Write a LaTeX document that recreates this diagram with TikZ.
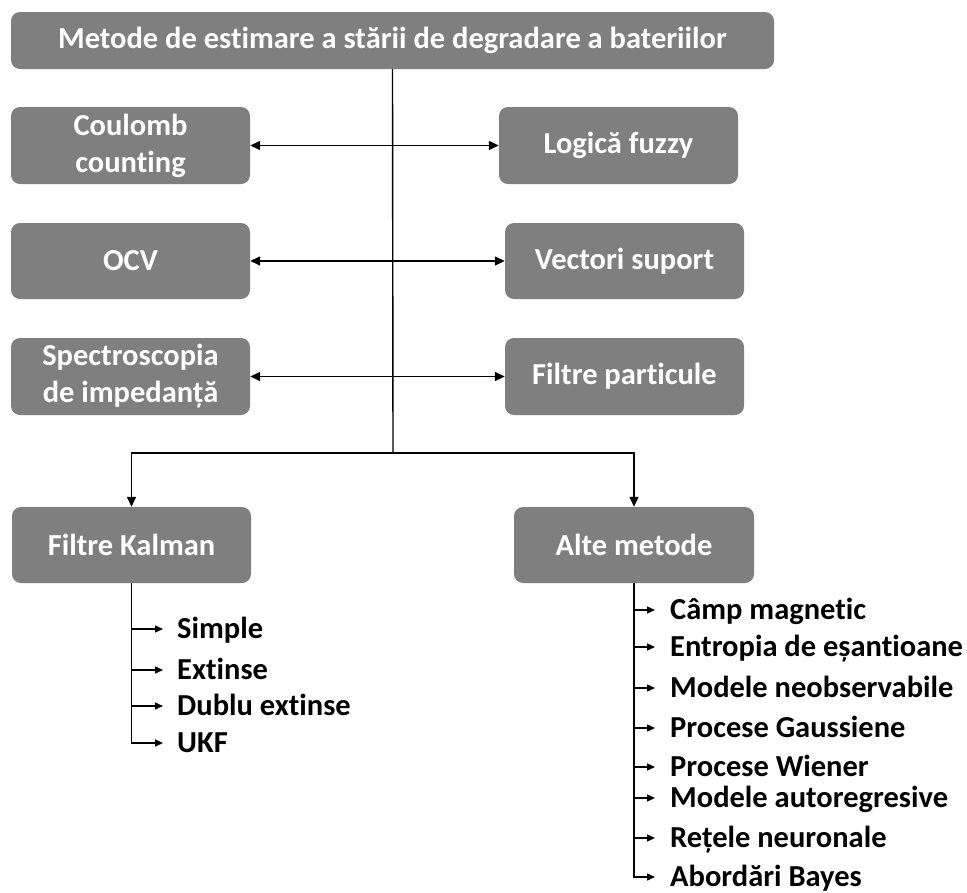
\documentclass[tikz,border=0pt]{standalone}
\usepackage{fontspec}
\setmainfont{Carlito}[Ligatures=NoCommon]
\usetikzlibrary{arrows.meta}
\definecolor{boxgrey}{HTML}{7F7F7F}
\begin{document}
\begin{tikzpicture}[x=1pt,y=-1pt,
  box/.style={fill=boxgrey, rounded corners=9pt, text=white, align=center,
    font=\bfseries\fontsize{30.5}{37}\selectfont, inner sep=0pt},
  item/.style={anchor=west, inner xsep=15pt, inner ysep=0pt, text height=19.5pt, text depth=0pt,
    font=\bfseries\fontsize{30.5}{37}\selectfont},
  link/.style={line width=1.4pt, draw=black},
  bigtip/.style={-{Triangle[length=10pt,width=9pt]}},
  duo/.style={{Triangle[length=10pt,width=9pt]}-{Triangle[length=10pt,width=9pt]}},
  smalltip/.style={-{Triangle[length=8pt,width=7pt]}}
]
\useasboundingbox (0,0) rectangle (967,892);

% main heading
\node[box, minimum width=763pt, minimum height=57pt] (top) at (392.5,40.5)
  {Metode de estimare a stării de degradare a bateriilor};

% paired methods
\node[box, minimum width=239pt, minimum height=77pt] (coul) at (130.5,145.5) {Coulomb\\counting};
\node[box, minimum width=239pt, minimum height=77pt] (fuzzy) at (618.5,145.5) {Logică fuzzy};
\node[box, minimum width=239pt, minimum height=76pt] (ocv) at (130.5,261) {OCV};
\node[box, minimum width=239pt, minimum height=76pt] (svm) at (624.5,261) {Vectori suport};
\node[box, minimum width=239pt, minimum height=77pt] (eis) at (130.5,376.5) {Spectroscopia\\de impedanță};
\node[box, minimum width=239pt, minimum height=77pt] (pf) at (624.5,376.5) {Filtre particule};

% lower branches
\node[box, minimum width=239pt, minimum height=76pt] (kal) at (131.5,545) {Filtre Kalman};
\node[box, minimum width=240pt, minimum height=76pt] (alte) at (634,545) {Alte metode};

% trunk and split
\coordinate (split) at (393,453);
\draw[link] (top.south) -- (split);
\draw[link, bigtip] (split) -| (kal.north);
\draw[link, bigtip] (split) -| (alte.north);

% horizontal double arrows
\draw[link, duo] (coul.east) -- (fuzzy.west);
\draw[link, duo] (ocv.east) -- (svm.west);
\draw[link, duo] (eis.east) -- (pf.west);

% Kalman filter variants
\node[item, inner xsep=14pt] (k1) at (163,629) {Simple};
\node[item, inner xsep=14pt] (k2) at (163,670) {Extinse};
\node[item, inner xsep=14pt] (k3) at (163,706) {Dublu extinse};
\node[item, inner xsep=14pt] (k4) at (163,743) {UKF};
\draw[link, smalltip] (kal.south) |- (k4.west);
\foreach \k in {k1,k2,k3}
  \draw[link, smalltip] (kal.south |- \k.west) -- (\k.west);

% other methods
\node[item] (a1) at (655,610) {Câmp magnetic};
\node[item] (a2) at (655,647) {Entropia de eșantioane};
\node[item] (a3) at (655,688) {Modele neobservabile};
\node[item] (a4) at (655,728) {Procese Gaussiene};
\node[item] (a5) at (655,767) {Procese Wiener};
\node[item] (a6) at (655,798) {Modele autoregresive};
\node[item] (a7) at (655,838) {Rețele neuronale};
\node[item] (a8) at (655,877) {Abordări Bayes};
\draw[link, smalltip] (alte.south) |- (a8.west);
\foreach \a in {a1,a2,a3,a4,a5,a6,a7}
  \draw[link, smalltip] (alte.south |- \a.west) -- (\a.west);
\end{tikzpicture}
\end{document}
